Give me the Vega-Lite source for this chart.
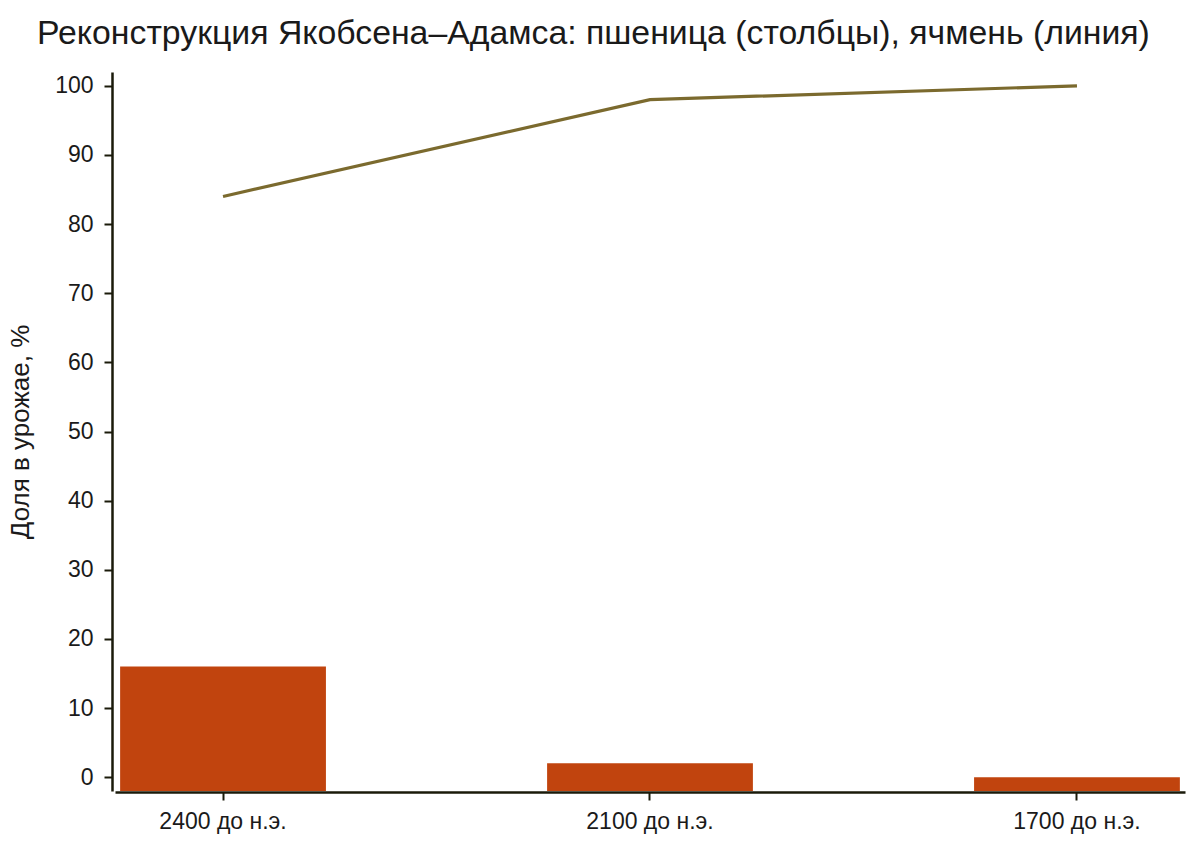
{
  "$schema": "https://vega.github.io/schema/vega-lite/v6.json",
  "autosize": {"type": "none"},
  "width": 1070,
  "height": 719,
  "padding": {"left": 115, "top": 72, "right": 15, "bottom": 66},
  "background": "white",
  "title": {
    "text": "Реконструкция Якобсена–Адамса: пшеница (столбцы), ячмень (линия)",
    "anchor": "start",
    "frame": "group",
    "dx": -78,
    "offset": 21,
    "font": "Liberation Sans",
    "fontSize": 33.8,
    "fontWeight": "normal",
    "color": "#1a1a1a"
  },
  "data": {
    "values": [
      {"period": "2400 до н.э.", "wheat": 16, "barley": 84},
      {"period": "2100 до н.э.", "wheat": 2, "barley": 98},
      {"period": "1700 до н.э.", "wheat": 0, "barley": 100}
    ]
  },
  "encoding": {
    "x": {
      "field": "period",
      "type": "nominal",
      "sort": null,
      "scale": {"paddingInner": 0.518, "paddingOuter": 0.012},
      "axis": {
        "title": null,
        "labelAngle": 0,
        "offset": 1,
        "domainColor": "#1a1a0a",
        "domainWidth": 2.5,
        "tickColor": "#1a1a0a",
        "tickWidth": 2,
        "tickSize": 8,
        "labelPadding": 10,
        "labelFont": "Liberation Sans",
        "labelFontSize": 23,
        "labelColor": "#1a1a1a"
      }
    }
  },
  "layer": [
    {
      "mark": {"type": "bar", "color": "#c1440e"},
      "encoding": {
        "y": {
          "field": "wheat",
          "type": "quantitative",
          "scale": {"domain": [-2, 102], "nice": false, "zero": false},
          "axis": {
            "title": "Доля в урожае, %",
            "values": [0, 10, 20, 30, 40, 50, 60, 70, 80, 90, 100],
            "grid": false,
            "offset": 3,
            "domainColor": "#1a1a0a",
            "domainWidth": 2.5,
            "tickColor": "#1a1a0a",
            "tickWidth": 2,
            "tickSize": 8,
            "labelPadding": 11,
            "labelFont": "Liberation Sans",
            "labelFontSize": 23,
            "labelColor": "#1a1a1a",
            "titleFont": "Liberation Sans",
            "titleFontSize": 26,
            "titleFontWeight": "normal",
            "titleColor": "#1a1a1a",
            "titlePadding": 21
          }
        },
        "y2": {"datum": -2}
      }
    },
    {
      "mark": {"type": "line", "color": "#7b6a2e", "strokeWidth": 3.2},
      "encoding": {
        "y": {"field": "barley", "type": "quantitative"}
      }
    }
  ],
  "config": {"view": {"stroke": null}}
}
